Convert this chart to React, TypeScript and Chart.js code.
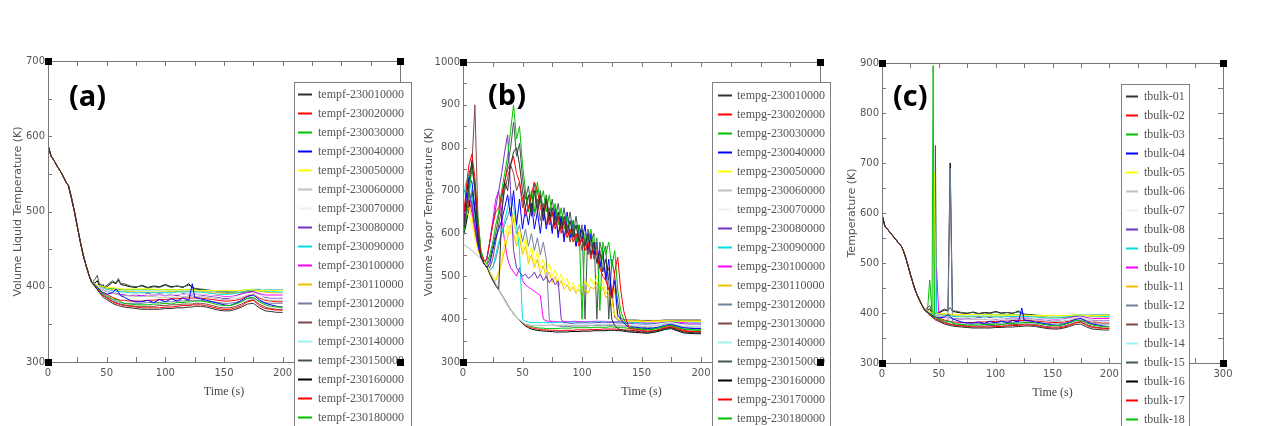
import React, { useEffect, useRef } from "react";
import { Chart, registerables } from "chart.js";

Chart.register(...registerables);

// ---------------- time bases ----------------
const earlyTimes = [0, 2.5, 5, 7.5, 10, 12.5, 15, 17.5, 20, 22.5, 25, 27.5, 30, 32.5, 35, 37.5];
const lateTimes = [40, 42, 44, 45, 46, 47, 48, 50, 55, 58, 60, 62, 65, 70, 75, 80, 85, 90, 95, 100, 105, 110, 115, 120, 123, 125, 130, 135, 140, 145, 150, 155, 160, 165, 170, 175, 180, 185, 190, 195, 200];
const vaporTimes = [0, 2.5, 5, 7.5, 10, 12.5, 15, 17.5, 20, 22.5, 25, 27.5, 30, 32.5, 35, 37.5, 40, 42.5, 45, 47.5, 50, 52.5, 55, 57.5, 60, 62.5, 65, 67.5, 70, 72.5, 75, 77.5, 80, 82.5, 85, 87.5, 90, 92.5, 95, 97.5, 100, 102.5, 105, 107.5, 110, 112.5, 115, 117.5, 120, 122.5, 125, 127.5, 130, 132.5, 135, 137.5, 140, 145, 150, 155, 160, 165, 170, 175, 180, 185, 190, 195, 200];

// ---------------- (a) volume liquid temperature ----------------
const liquidEarly = [588, 574, 568, 561, 555, 548, 540, 534, 518, 500, 480, 460, 442, 428, 415, 405];
const tempf01 = [400,396,392,390,388,386,385,383,378,376,375,374,373,372,371,370,370,370,370,371,371,372,372,373,373,374,374,373,371,369,368,368,370,373,377,378,372,368,367,366,366];
const tempf02 = [401,397,393,391,389,388,387,385,380,378,377,376,375,374,373,372,372,372,372,373,373,374,375,375,376,376,376,375,373,371,370,370,372,375,380,382,375,371,370,369,369];
const tempf03 = [402,398,395,393,392,391,390,388,384,383,382,380,378,377,376,376,376,377,377,378,377,379,379,380,380,381,381,380,378,376,375,375,377,380,385,386,380,376,374,373,373];
const tempf04 = [403,399,396,394,393,392,392,390,392,397,393,388,386,382,380,380,382,379,383,380,384,381,385,382,404,386,384,382,380,378,376,375,378,382,387,389,383,378,376,374,373];
const tempf05 = [404,402,401,400,400,400,400,399,399,398,398,397,397,397,397,397,397,397,396,396,396,396,396,396,396,396,395,395,395,395,395,395,395,395,396,396,395,395,395,395,395];
const tempf06 = [403,400,398,397,396,395,395,394,391,390,389,389,388,388,387,387,387,387,386,386,386,386,387,387,387,387,387,386,385,384,383,383,384,386,389,390,386,383,382,382,382];
const tempf07 = [403,401,399,398,397,397,396,395,393,392,392,391,391,390,390,390,389,389,389,389,389,390,390,390,390,390,390,389,388,387,386,386,387,389,391,392,389,387,386,386,386];
const tempf08 = [403,400,398,397,396,396,395,394,393,392,391,390,389,388,390,387,392,388,391,388,390,388,391,389,389,390,389,388,387,386,384,385,388,391,393,394,390,386,385,385,385];
const tempf09 = [404,401,400,399,398,398,397,396,395,394,394,393,393,392,392,392,392,392,392,392,392,393,393,393,393,393,393,392,391,390,390,390,391,393,395,396,395,394,394,393,393];
const tempf10 = [403,400,398,397,396,395,395,394,392,391,390,389,389,388,389,388,388,389,389,388,389,389,390,390,390,390,390,389,388,388,387,387,388,390,392,393,391,389,389,389,389];
const tempf11 = [404,401,400,399,398,398,398,397,396,395,395,394,394,394,393,393,393,393,393,393,394,394,394,394,394,394,394,393,392,392,391,391,392,393,394,395,394,393,392,392,392];
const tempf12 = [402,398,395,393,391,390,389,387,383,381,380,379,378,378,378,378,379,379,379,380,380,381,381,382,382,382,382,381,380,379,378,378,379,381,384,385,381,379,378,378,378];
const tempf13 = [401,397,394,392,390,389,388,386,381,379,378,377,376,375,374,374,374,374,375,375,376,376,377,377,377,378,378,377,375,373,372,372,374,377,381,383,377,373,371,370,370];
const tempf14 = [404,402,400,399,399,398,398,397,396,396,395,395,395,395,395,395,395,395,395,395,395,395,395,395,395,395,395,394,394,393,393,393,393,394,396,397,397,396,396,396,396];
const tempf15 = [410,415,402,404,399,403,400,402,408,405,411,404,404,401,400,401,398,400,399,402,399,401,400,402,400,398,397,396,395,394,394,393,393,394,395,396,396,396,396,396,396];
const tempf16 = [405,408,400,401,398,402,399,400,406,404,409,403,402,400,399,402,399,401,400,403,400,401,399,404,399,397,396,395,394,393,393,392,392,393,394,395,395,395,395,395,395];
const tempf17 = [402,399,396,394,393,392,391,390,386,384,383,382,382,381,381,381,382,382,383,383,384,384,385,385,385,385,385,384,383,382,381,381,382,384,388,390,385,382,381,380,380];
const tempf18 = [404,402,401,400,399,399,399,398,398,397,397,396,396,396,396,396,396,396,396,396,396,396,396,396,396,396,396,395,395,394,394,394,394,395,396,396,396,396,396,396,396];

// ---------------- (b) volume vapor temperature ----------------
const tempg01 = [600,650,720,770,700,600,545,530,522,505,490,478,470,640,720,700,760,790,800,760,700,660,690,640,700,650,690,630,680,630,660,620,650,610,640,600,630,590,620,580,610,570,600,550,580,530,560,510,540,490,400,385,378,375,374,373,372,372,370,369,371,374,378,380,375,370,369,368,368];
const tempg02 = [620,700,760,785,730,620,550,535,540,580,620,650,660,690,720,750,760,780,740,720,680,640,660,690,720,700,660,640,680,620,650,610,640,600,630,590,610,580,600,570,590,560,580,540,580,550,520,500,490,470,450,510,545,470,420,395,378,376,374,372,373,376,381,383,378,374,372,371,371];
const tempg03 = [590,640,700,750,720,640,560,540,530,550,580,620,650,700,740,780,840,900,820,850,760,700,650,700,650,720,670,700,650,690,640,670,620,660,610,640,600,630,580,620,400,600,580,610,560,590,420,580,550,580,520,560,470,420,400,390,380,379,377,376,377,380,384,386,381,377,376,375,375];
const tempg04 = [610,680,730,720,660,580,545,530,520,530,560,590,610,630,660,690,640,700,620,680,610,660,620,670,610,650,600,660,610,650,600,660,590,640,580,650,590,630,570,620,580,620,560,600,550,580,520,560,490,540,450,490,410,400,392,385,381,381,379,378,379,382,386,388,384,380,379,378,378];
const tempg05 = [630,650,640,620,590,560,545,535,525,510,500,495,500,540,580,620,600,650,580,610,560,590,540,570,530,560,520,540,510,530,500,515,490,505,480,495,470,485,465,480,470,490,475,495,480,500,470,490,460,470,440,410,400,398,397,396,396,395,395,394,395,395,396,396,395,395,395,395,395];
const tempg06 = [575,570,566,560,554,547,541,535,527,512,497,483,469,456,443,431,421,412,404,398,392,388,386,385,385,385,386,385,385,386,386,385,385,386,386,385,385,386,386,386,385,386,386,385,386,387,387,386,386,387,387,386,386,386,385,385,385,384,383,383,384,386,389,390,386,383,382,382,382];
const tempg07 = [578,572,567,561,555,548,542,536,528,513,498,484,470,457,444,432,422,413,405,399,394,391,389,388,388,388,388,388,389,389,389,388,388,388,389,389,388,388,389,389,389,389,389,389,389,389,390,390,390,390,390,389,389,388,388,388,388,387,386,386,387,389,391,392,389,387,386,386,386];
const tempg08 = [590,650,690,670,620,570,545,530,540,580,620,660,700,740,790,830,700,560,520,510,500,505,495,500,510,495,505,490,500,485,495,480,490,400,392,391,390,390,391,391,390,391,391,390,391,392,392,391,391,392,392,391,391,391,390,390,390,389,388,388,389,391,393,394,391,389,388,388,388];
const tempg09 = [680,720,735,690,630,575,548,535,525,515,520,550,580,600,630,660,690,660,620,560,400,395,393,392,392,392,392,393,392,392,392,392,393,393,392,392,393,393,393,392,392,393,393,393,393,394,394,393,393,393,393,393,393,393,393,392,392,392,391,390,390,390,391,393,395,395,394,393,393];
const tempg10 = [640,680,700,660,610,565,545,530,540,580,630,680,700,640,580,540,520,510,500,520,490,480,475,470,465,460,455,400,396,395,395,394,394,394,394,394,394,395,395,394,394,394,394,394,395,395,395,395,394,394,394,394,394,394,394,393,393,393,392,391,391,390,391,392,393,392,391,391,391];
const tempg11 = [600,640,660,640,600,560,543,533,523,508,495,490,510,530,560,590,620,600,570,590,550,570,530,550,520,540,505,525,495,510,485,500,475,490,470,480,465,475,460,470,455,470,460,475,470,485,460,475,450,460,430,470,400,397,396,396,396,396,396,395,396,396,396,396,396,396,396,396,396];
const tempg12 = [620,670,700,680,630,575,547,533,525,515,520,540,570,600,620,640,660,630,600,620,580,610,570,600,560,590,550,580,540,400,388,385,384,383,383,383,383,384,384,384,384,384,384,385,385,385,385,385,385,385,385,385,384,384,384,383,383,382,381,380,380,381,384,386,383,380,379,379,379];
const tempg13 = [610,660,700,760,900,640,560,538,528,520,540,580,620,660,700,730,760,740,700,720,660,700,650,690,640,680,630,670,620,660,610,640,600,630,590,620,580,610,570,600,560,590,550,580,540,570,520,550,500,520,460,405,398,397,397,397,397,397,396,396,396,396,397,397,397,397,397,397,397];
const tempg14 = [576,571,566,560,554,547,541,535,527,512,497,483,469,456,443,431,421,412,405,399,394,390,388,387,387,387,387,386,386,387,387,386,386,386,387,387,386,386,387,387,386,387,387,387,386,387,388,387,387,388,388,387,387,387,386,386,386,385,384,384,385,387,390,391,388,385,384,384,384];
const tempg15 = [600,690,740,760,700,610,550,535,525,540,570,600,640,680,720,760,800,860,780,810,730,680,710,650,720,660,700,650,690,640,680,630,670,620,660,610,650,600,640,590,620,400,610,580,600,400,580,550,570,400,540,500,440,402,399,398,398,398,397,397,397,397,398,398,398,398,398,398,398];
const tempg16 = [590,620,660,700,650,590,548,533,523,508,493,480,468,456,444,432,421,412,404,397,390,384,380,377,375,374,373,372,372,371,371,370,370,370,370,370,371,371,371,371,372,372,372,372,373,373,373,373,373,374,374,374,373,373,372,371,370,369,368,367,369,372,376,378,373,368,367,366,366];
const tempg17 = [600,640,680,650,610,570,546,532,524,509,494,481,469,457,445,433,422,413,405,398,392,387,383,380,378,377,376,375,375,374,374,374,373,373,374,374,374,374,375,375,375,375,375,376,376,376,376,377,377,377,377,377,376,376,375,375,374,373,372,371,372,375,379,381,376,372,371,370,370];
const tempg18 = [595,630,670,690,640,580,547,533,524,510,495,482,470,458,446,434,423,414,406,399,393,389,386,383,381,380,379,379,378,378,378,378,378,379,379,379,379,380,380,380,380,380,380,380,381,381,381,381,381,382,382,381,381,380,380,379,378,377,376,375,376,379,383,385,380,376,375,374,374];

// ---------------- (c) bulk temperature ----------------
const bulkEarly = [597, 574, 567, 560, 553, 546, 539, 532, 517, 498, 477, 458, 441, 428, 416, 406];
const tbulk01 = [400,396,392,390,388,386,385,383,378,376,375,374,373,372,371,370,370,370,370,371,371,372,372,373,373,374,374,373,371,369,368,368,370,373,377,378,372,368,367,366,366];
const tbulk02 = [401,397,393,391,389,388,387,385,380,378,377,376,375,374,373,372,372,372,372,373,373,374,375,375,376,376,376,375,373,371,370,370,372,375,380,382,375,371,370,369,369];
const tbulk03 = [402,398,395,895,392,391,390,388,384,383,382,380,378,377,376,376,376,377,377,378,377,379,379,380,380,381,381,380,378,376,375,375,377,380,385,386,380,376,374,373,373];
const tbulk04 = [403,399,396,394,393,392,392,390,392,397,393,388,386,382,380,380,382,379,383,380,384,381,385,382,410,386,384,382,380,378,376,375,378,382,387,389,383,378,376,374,373];
const tbulk05 = [404,402,401,400,680,400,400,399,399,398,398,397,397,397,397,397,397,397,396,396,396,396,396,396,396,396,395,395,395,395,395,395,395,395,396,396,395,395,395,395,395];
const tbulk06 = [403,400,398,397,396,395,395,394,391,390,389,389,388,388,387,387,387,387,386,386,386,386,387,387,387,387,387,386,385,384,383,383,384,386,389,390,386,383,382,382,382];
const tbulk07 = [403,401,399,398,397,397,396,395,393,392,392,391,391,390,390,390,389,389,389,389,389,390,390,390,390,390,390,389,388,387,386,386,387,389,391,392,389,387,386,386,386];
const tbulk08 = [403,400,398,397,396,396,395,394,393,392,391,390,389,388,390,387,392,388,391,388,390,388,391,389,389,390,389,388,387,386,384,385,388,391,393,394,390,386,385,385,385];
const tbulk09 = [404,401,400,399,398,545,397,396,395,394,394,393,393,392,392,392,392,392,392,392,392,393,393,393,393,393,393,392,391,390,390,390,391,393,395,396,395,394,394,393,393];
const tbulk10 = [403,400,398,397,396,395,490,394,392,391,390,389,389,388,389,388,388,389,389,388,389,389,390,390,390,390,390,389,388,388,387,387,388,390,392,393,391,389,389,389,389];
const tbulk11 = [404,401,400,399,398,398,398,397,396,395,395,394,394,394,393,393,393,393,393,393,394,394,394,394,394,394,394,393,392,392,391,391,392,393,394,395,394,393,392,392,392];
const tbulk12 = [402,398,395,393,391,390,389,387,383,381,690,379,378,378,378,378,379,379,379,380,380,381,381,382,382,382,382,381,380,379,378,378,379,381,384,385,381,379,378,378,378];
const tbulk13 = [401,397,394,392,390,389,388,386,381,379,378,377,376,375,374,374,374,374,375,375,376,376,377,377,377,378,378,377,375,373,372,372,374,377,381,383,377,373,371,370,370];
const tbulk14 = [404,402,400,399,399,398,398,397,396,396,395,395,395,395,395,395,395,395,395,395,395,395,395,395,395,395,395,394,394,393,393,393,393,394,396,397,397,396,396,396,396];
const tbulk15 = [410,415,402,404,399,735,400,402,408,405,411,404,404,401,400,401,398,400,399,402,399,401,400,402,400,398,397,396,395,394,394,393,393,394,395,396,396,396,396,396,396];
const tbulk16 = [405,408,400,401,398,402,399,400,406,404,700,403,402,400,399,402,399,401,400,403,400,401,399,404,399,397,396,395,394,393,393,392,392,393,394,395,395,395,395,395,395];
const tbulk17 = [402,399,396,394,393,392,391,390,386,384,383,382,382,381,381,381,382,382,383,383,384,384,385,385,385,385,385,384,383,382,381,381,382,384,388,390,385,382,381,380,380];
const tbulk18 = [404,466,401,400,399,399,399,398,398,397,397,396,396,396,396,396,396,396,396,396,396,396,396,396,396,396,396,395,395,394,394,394,394,395,396,396,396,396,396,396,396];

// ---------------- labels & colours ----------------
const liquidLabels = ["tempf-230010000","tempf-230020000","tempf-230030000","tempf-230040000","tempf-230050000","tempf-230060000","tempf-230070000","tempf-230080000","tempf-230090000","tempf-230100000","tempf-230110000","tempf-230120000","tempf-230130000","tempf-230140000","tempf-230150000","tempf-230160000","tempf-230170000","tempf-230180000"];
const vaporLabels = ["tempg-230010000","tempg-230020000","tempg-230030000","tempg-230040000","tempg-230050000","tempg-230060000","tempg-230070000","tempg-230080000","tempg-230090000","tempg-230100000","tempg-230110000","tempg-230120000","tempg-230130000","tempg-230140000","tempg-230150000","tempg-230160000","tempg-230170000","tempg-230180000"];
const bulkLabels = ["tbulk-01","tbulk-02","tbulk-03","tbulk-04","tbulk-05","tbulk-06","tbulk-07","tbulk-08","tbulk-09","tbulk-10","tbulk-11","tbulk-12","tbulk-13","tbulk-14","tbulk-15","tbulk-16","tbulk-17","tbulk-18"];
const seriesColors = ["#303030","#ff0000","#00c000","#0000ff","#ffff00","#c0c0c0","#f0f0f0","#7030c0","#00e0e0","#ff00ff","#f0c000","#7080a0","#804848","#a0f0f0","#405848","#000000","#ff0000","#00c000"];

const liquidSeries = [tempf01,tempf02,tempf03,tempf04,tempf05,tempf06,tempf07,tempf08,tempf09,tempf10,tempf11,tempf12,tempf13,tempf14,tempf15,tempf16,tempf17,tempf18];
const vaporSeries = [tempg01,tempg02,tempg03,tempg04,tempg05,tempg06,tempg07,tempg08,tempg09,tempg10,tempg11,tempg12,tempg13,tempg14,tempg15,tempg16,tempg17,tempg18];
const bulkSeries = [tbulk01,tbulk02,tbulk03,tbulk04,tbulk05,tbulk06,tbulk07,tbulk08,tbulk09,tbulk10,tbulk11,tbulk12,tbulk13,tbulk14,tbulk15,tbulk16,tbulk17,tbulk18];

const toPoints = (times: number[], values: number[]) => times.map((t, i) => ({ x: t, y: values[i] }));

type Spec = {
  tag: string;
  left: number;
  width: number;
  area: { left: number; top: number; right: number; bottom: number };
  yMin: number;
  yMax: number;
  yTitle: string;
  yTitlePad: number;
  xTitlePad: number;
  tagX: number;
  tagY: number;
  legend: { x: number; y: number; w: number; row0: number; s1: number; s2: number; tx: number };
  labels: string[];
  data: { x: number; y: number }[][];
};

const specs: Spec[] = [
  {
    tag: "(a)", left: 0, width: 420,
    area: { left: 48, top: 61, right: 400, bottom: 362 },
    yMin: 300, yMax: 700, yTitle: "Volume Liquid Temperature (K)", yTitlePad: 12, xTitlePad: 27,
    tagX: 69, tagY: 106,
    legend: { x: 294, y: 82, w: 117, row0: 94.5, s1: 298, s2: 312, tx: 318 },
    labels: liquidLabels,
    data: liquidSeries.map((s) => toPoints(earlyTimes, liquidEarly).concat(toPoints(lateTimes, s))),
  },
  {
    tag: "(b)", left: 420, width: 420,
    area: { left: 43, top: 62, right: 400, bottom: 362 },
    yMin: 300, yMax: 1000, yTitle: "Volume Vapor Temperature (K)", yTitlePad: 3, xTitlePad: 27,
    tagX: 68, tagY: 105,
    legend: { x: 292, y: 82, w: 118, row0: 95.5, s1: 298, s2: 312, tx: 317 },
    labels: vaporLabels,
    data: vaporSeries.map((s) => toPoints(vaporTimes, s)),
  },
  {
    tag: "(c)", left: 840, width: 432,
    area: { left: 42, top: 63, right: 383, bottom: 363 },
    yMin: 300, yMax: 900, yTitle: "Temperature (K)", yTitlePad: 6, xTitlePad: 26,
    tagX: 53, tagY: 106,
    legend: { x: 281, y: 84, w: 68, row0: 96.5, s1: 286, s2: 298, tx: 304 },
    labels: bulkLabels,
    data: bulkSeries.map((s) => toPoints(earlyTimes, bulkEarly).concat(toPoints(lateTimes, s))),
  },
];

function makeDecor(spec: Spec) {
  return {
    id: "decor",
    afterDraw(chart: any) {
      const { ctx, chartArea: a } = chart;
      const xs = chart.scales.x;
      const ys = chart.scales.y;
      ctx.save();
      // frame
      ctx.strokeStyle = "#777777";
      ctx.lineWidth = 1;
      ctx.strokeRect(Math.round(a.left) + 0.5, Math.round(a.top) + 0.5, Math.round(a.right - a.left), Math.round(a.bottom - a.top));
      // inward tick marks
      ctx.beginPath();
      for (let v = xs.min; v <= xs.max; v += 25) {
        const px = Math.round(xs.getPixelForValue(v)) + 0.5;
        ctx.moveTo(px, a.bottom); ctx.lineTo(px, a.bottom - 5);
        ctx.moveTo(px, a.top); ctx.lineTo(px, a.top + 5);
      }
      for (let v = ys.min; v <= ys.max; v += 50) {
        const py = Math.round(ys.getPixelForValue(v)) + 0.5;
        ctx.moveTo(a.left, py); ctx.lineTo(a.left + 4, py);
        ctx.moveTo(a.right, py); ctx.lineTo(a.right - 5, py);
      }
      ctx.stroke();
      // legend box
      const L = spec.legend;
      ctx.fillStyle = "#ffffff";
      ctx.fillRect(L.x, L.y, L.w, 500);
      ctx.strokeStyle = "#808080";
      ctx.lineWidth = 1;
      ctx.strokeRect(L.x + 0.5, L.y + 0.5, L.w, 500);
      ctx.font = '12px "Liberation Serif"';
      ctx.textBaseline = "middle";
      ctx.textAlign = "left";
      spec.labels.forEach((lab, i) => {
        const cy = L.row0 + i * 19;
        ctx.strokeStyle = seriesColors[i];
        ctx.lineWidth = 2;
        ctx.beginPath();
        ctx.moveTo(L.s1, cy);
        ctx.lineTo(L.s2, cy);
        ctx.stroke();
        ctx.fillStyle = "#555555";
        ctx.fillText(lab, L.tx, cy);
      });
      // corner squares
      ctx.fillStyle = "#000000";
      [[a.left, a.top], [a.right, a.top], [a.left, a.bottom], [a.right, a.bottom]].forEach(([cx, cy]) => {
        ctx.fillRect(Math.round(cx) - 3, Math.round(cy) - 3, 7, 7);
      });
      // panel tag
      ctx.font = 'bold 29px "Open Sans"';
      ctx.fillStyle = "#000000";
      ctx.textBaseline = "alphabetic";
      ctx.fillText(spec.tag, spec.tagX, spec.tagY);
      ctx.restore();
    },
  };
}

function Panel({ spec }: { spec: Spec }) {
  const ref = useRef<HTMLCanvasElement | null>(null);
  useEffect(() => {
    if (!ref.current) return;
    const H = 426;
    const chart = new Chart(ref.current, {
      type: "line",
      data: {
        datasets: spec.data.map((pts, i) => ({
          label: spec.labels[i],
          data: pts,
          borderColor: seriesColors[i],
          backgroundColor: seriesColors[i],
          borderWidth: 1,
          pointRadius: 0,
          fill: false,
          tension: 0,
        })),
      },
      options: {
        animation: false,
        responsive: false,
        devicePixelRatio: 1,
        events: [],
        layout: { padding: { left: 0, top: spec.area.top, right: spec.width - spec.area.right, bottom: 0 } },
        plugins: { legend: { display: false }, tooltip: { enabled: false }, title: { display: false } },
        scales: {
          x: {
            type: "linear",
            min: 0,
            max: 300,
            border: { display: false },
            grid: { display: false, drawTicks: false },
            ticks: { stepSize: 50, autoSkip: false, maxRotation: 0, padding: 5, color: "#555555", font: { family: "DejaVu Sans", size: 10 }, callback: (v: any) => String(v) },
            title: { display: true, text: "Time (s)", color: "#444444", font: { family: "Liberation Serif", size: 12 }, padding: { top: 0, bottom: spec.xTitlePad } },
            afterFit: (s: any) => { s.height = H - spec.area.bottom; },
          },
          y: {
            type: "linear",
            min: spec.yMin,
            max: spec.yMax,
            border: { display: false },
            grid: { display: false, drawTicks: false },
            ticks: { stepSize: 100, padding: 3, color: "#555555", font: { family: "DejaVu Sans", size: 10 }, callback: (v: any) => String(v) },
            title: { display: true, text: spec.yTitle, color: "#555555", font: { family: "DejaVu Sans", size: 11 }, padding: { top: spec.yTitlePad, bottom: 0 } },
            afterFit: (s: any) => { s.width = spec.area.left; },
          },
        },
      } as any,
      plugins: [makeDecor(spec)],
    });
    return () => chart.destroy();
  }, [spec]);
  return (
    <canvas
      ref={ref}
      width={spec.width}
      height={426}
      style={{ position: "absolute", left: spec.left, top: 0, width: spec.width, height: 426 }}
    />
  );
}

export default function App() {
  return (
    <div style={{ position: "absolute", left: 0, top: 0, width: 1272, height: 426, background: "#ffffff", overflow: "hidden" }}>
      {specs.map((s) => (
        <Panel key={s.tag} spec={s} />
      ))}
    </div>
  );
}
